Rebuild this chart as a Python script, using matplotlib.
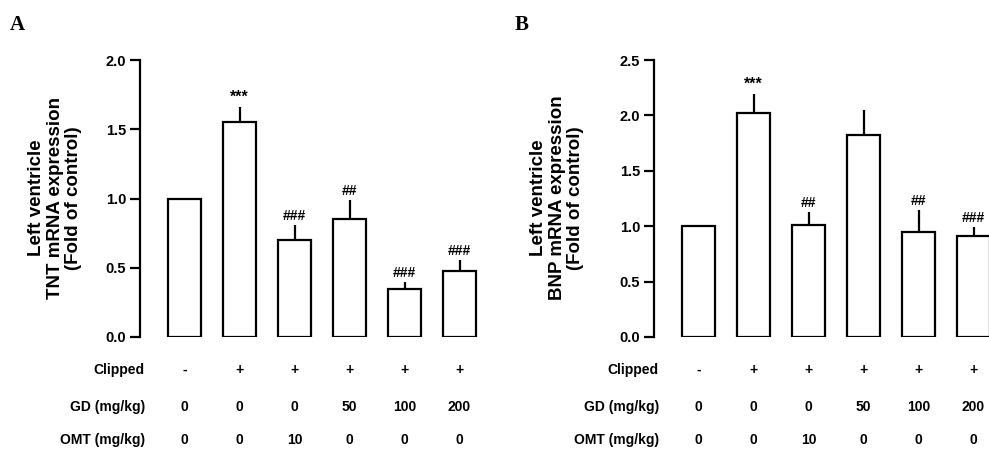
import matplotlib
matplotlib.use("Agg")
import matplotlib.pyplot as plt
import matplotlib.transforms as mtransforms
import numpy as np

plt.rcParams['font.family'] = ['Liberation Sans', 'DejaVu Sans']
plt.rcParams['font.weight'] = 'bold'

# data
clipped = ['-', '+', '+', '+', '+', '+']
gd_dose = ['0', '0', '0', '50', '100', '200']
omt_dose = ['0', '0', '10', '0', '0', '0']

tnt_mean = [1.0, 1.55, 0.70, 0.855, 0.35, 0.475]
tnt_err = [0.0, 0.11, 0.11, 0.135, 0.05, 0.08]
tnt_sig = ['', '***', '###', '##', '###', '###']

bnp_mean = [1.0, 2.02, 1.015, 1.82, 0.945, 0.91]
bnp_err = [0.0, 0.175, 0.11, 0.23, 0.20, 0.085]
bnp_sig = ['', '***', '##', '', '##', '###']

W, H = 989, 450
fig = plt.figure(figsize=(W / 100, H / 100), dpi=100)


def panel(left_px, ymax, yticks, means, errs, sigs, ylabel, letter, letter_px, ylab_px):
    x = np.arange(len(means))
    xmin, xmax = -0.81, 5.5
    width_px = (xmax - xmin) * 55
    ax = fig.add_axes([left_px / W, (H - 337) / H, width_px / W, 277 / H])
    ax.bar(x, means, width=0.6, color='white', edgecolor='black', linewidth=1.6, zorder=2)
    lower = np.zeros(len(errs))
    e = np.array(errs)
    mask = e > 0
    ax.errorbar(x[mask], np.array(means)[mask], yerr=[lower[mask], e[mask]],
                fmt='none', ecolor='black', elinewidth=1.6, capsize=0, zorder=1)
    for xi, m, er, s in zip(x, means, errs, sigs):
        if s:
            ax.annotate(s, (xi, m + er), xytext=(0, 1.5), textcoords='offset points',
                        ha='center', va='bottom', fontsize=10 if s[0] == '#' else 11.5,
                        fontweight='bold')
    ax.set_xlim(xmin, xmax)
    ax.set_ylim(0, ymax)
    ax.set_yticks(yticks)
    ax.set_yticklabels(['%.1f' % t for t in yticks])
    ax.set_xticks([])
    for sp in ['top', 'right', 'bottom']:
        ax.spines[sp].set_visible(False)
    ax.spines['left'].set_linewidth(1.6)
    ax.tick_params(axis='y', direction='out', length=7, width=1.6, labelsize=10.5, pad=3)
    for lab in ax.get_yticklabels():
        lab.set_fontweight('bold')

    fig.text(ylab_px / W, 1 - 198 / H, ylabel, rotation=90, ha='center', va='center',
             fontsize=13.5, fontweight='bold', linespacing=1.1, multialignment='center')
    fig.text(letter_px / W, 1 - 25 / H, letter, fontsize=15, fontweight='bold',
             family='Liberation Serif', ha='left', va='center')

    trans = mtransforms.blended_transform_factory(ax.transData, fig.transFigure)
    rows = [('Clipped', clipped, 370), ('GD (mg/kg)', gd_dose, 407), ('OMT (mg/kg)', omt_dose, 440)]
    for name, vals, ypx in rows:
        fig.text((left_px + 5) / W, 1 - ypx / H, name, ha='right', va='center',
                 fontsize=10, fontweight='bold')
        for xi, v in zip(x, vals):
            ax.text(xi, 1 - ypx / H, v, transform=trans, ha='center', va='center',
                    fontsize=10, fontweight='bold', clip_on=False)
    return ax


panel(140, 2.0, [0.0, 0.5, 1.0, 1.5, 2.0], tnt_mean, tnt_err, tnt_sig,
      'Left ventricle\nTNT mRNA expression\n(Fold of control)', 'A', 10, 55)
panel(654, 2.5, [0.0, 0.5, 1.0, 1.5, 2.0, 2.5], bnp_mean, bnp_err, bnp_sig,
      'Left ventricle\nBNP mRNA expression\n(Fold of control)', 'B', 515, 557)

fig.savefig('out.png', dpi=100)
